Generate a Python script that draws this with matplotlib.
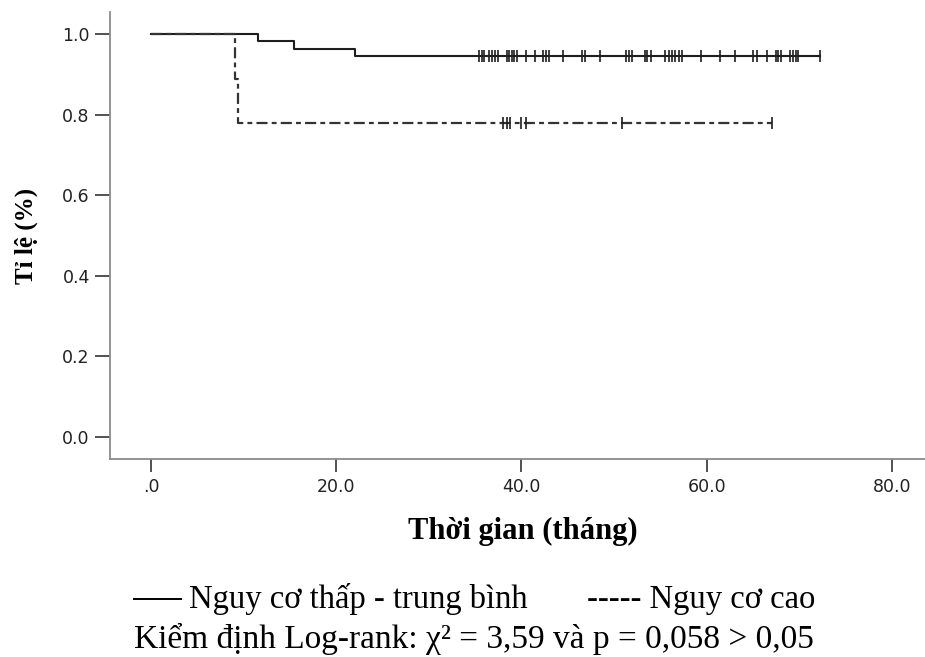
import matplotlib
matplotlib.use("Agg")
import matplotlib.pyplot as plt
from matplotlib.lines import Line2D

plt.rcParams['lines.scale_dashes'] = False

# Kaplan-Meier step curves: event times and survival level after each event
low_event_times = [11.5, 15.4, 22.0]
low_surv_levels = [0.982, 0.964, 0.946]
low_censor_times = [35.4, 35.7, 36.0, 36.5, 36.8, 37.1, 37.5, 38.4, 38.7, 39.0,
                    39.2, 39.5, 40.5, 41.5, 42.3, 42.6, 43.0, 44.5, 46.5, 46.9,
                    48.5, 51.3, 51.6, 51.9, 53.3, 53.6, 54.0, 55.5, 55.9, 56.3,
                    56.6, 57.0, 57.3, 59.4, 61.4, 63.0, 65.0, 65.4, 66.5, 67.5,
                    67.7, 68.0, 69.0, 69.3, 69.6, 69.9, 72.2]

high_event_times = [9.1, 9.4]
high_surv_levels = [0.889, 0.778]
high_censor_times = [38.0, 38.4, 38.8, 40.0, 40.5, 50.9, 67.0]

x_ticks = [0, 20, 40, 60, 80]
x_tick_labels = [".0", "20.0", "40.0", "60.0", "80.0"]
y_ticks = [0.0, 0.2, 0.4, 0.6, 0.8, 1.0]
y_tick_labels = ["0.0", "0.2", "0.4", "0.6", "0.8", "1.0"]


def step_xy(event_times, levels, end_time):
    xs, ys = [0.0], [1.0]
    for t, s in zip(event_times, levels):
        xs.append(t)
        ys.append(s)
    xs.append(end_time)
    ys.append(levels[-1])
    return xs, ys


def level_at(t, event_times, levels):
    s = 1.0
    for et, lv in zip(event_times, levels):
        if t >= et:
            s = lv
    return s


W, H = 925, 657
fig = plt.figure(figsize=(W / 100, H / 100), dpi=100)


def fx(px):
    return px / W


def fy(py):
    return 1 - py / H


left_px, right_px, top_px, bottom_px = 110, 933, 12, 459
ax = fig.add_axes([fx(left_px), fy(bottom_px),
                   (right_px - left_px) / W, (bottom_px - top_px) / H])

line_col = '#1e1e1e'

# low / medium risk group: solid
xs, ys = step_xy(low_event_times, low_surv_levels, max(low_censor_times))
ax.step(xs, ys, where='post', color=line_col, lw=1.5)
ax.plot(low_censor_times,
        [level_at(t, low_event_times, low_surv_levels) for t in low_censor_times],
        linestyle='none', marker='|', markersize=8, markeredgewidth=1.2,
        color=line_col)

# high risk group: dash-dot
xs, ys = step_xy(high_event_times, high_surv_levels, max(high_censor_times))
ax.step(xs, ys, where='post', color='#333333', lw=1.6,
        dashes=(8, 3, 3.5, 3))
ax.plot(high_censor_times,
        [level_at(t, high_event_times, high_surv_levels) for t in high_censor_times],
        linestyle='none', marker='|', markersize=8, markeredgewidth=1.2,
        color=line_col)

ax.set_xlim(-(151 - left_px) / 9.2625, 80 + (right_px - 892) / 9.2625)
ax.set_ylim(-(bottom_px - 437) / 403.0, 1 + (34 - top_px) / 403.0)

for side in ('top', 'right'):
    ax.spines[side].set_visible(False)
for side in ('left', 'bottom'):
    ax.spines[side].set_color('#8a8a8a')
    ax.spines[side].set_linewidth(1.3)

ax.set_xticks(x_ticks)
ax.set_xticklabels(x_tick_labels)
ax.set_yticks(y_ticks)
ax.set_yticklabels(y_tick_labels)
ax.tick_params(axis='both', direction='out', width=1.2,
               color='#333333', labelsize=12.5, labelcolor='#222222',
               labelfontfamily='DejaVu Sans')
ax.tick_params(axis='x', length=9.5, pad=4)
ax.tick_params(axis='y', length=11, pad=3.5)

serif = 'Liberation Serif'
fig.text(fx(26), fy(236), 'Tỉ lệ (%)', family=serif, fontweight='bold',
         fontsize=18, rotation=90, ha='center', va='center')
fig.text(fx(523), fy(531), 'Thời gian (tháng)', family=serif,
         fontweight='bold', fontsize=22, ha='center', va='center')

# legend line under the chart
fig.add_artist(Line2D([fx(134), fx(181)], [fy(599), fy(599)],
                      color='black', lw=1.4))
fig.text(fx(189), fy(608), 'Nguy cơ thấp - trung bình',
         family=serif, fontsize=23.5, ha='left', va='baseline')
fig.text(fx(815), fy(608), '----- Nguy cơ cao',
         family=serif, fontsize=23.5, ha='right', va='baseline')
fig.text(fx(134), fy(648),
         'Kiểm định Log-rank: χ² = 3,59 và p = 0,058 > 0,05',
         family=serif, fontsize=24, ha='left', va='baseline')

fig.savefig('out.png', dpi=100, facecolor='white')
